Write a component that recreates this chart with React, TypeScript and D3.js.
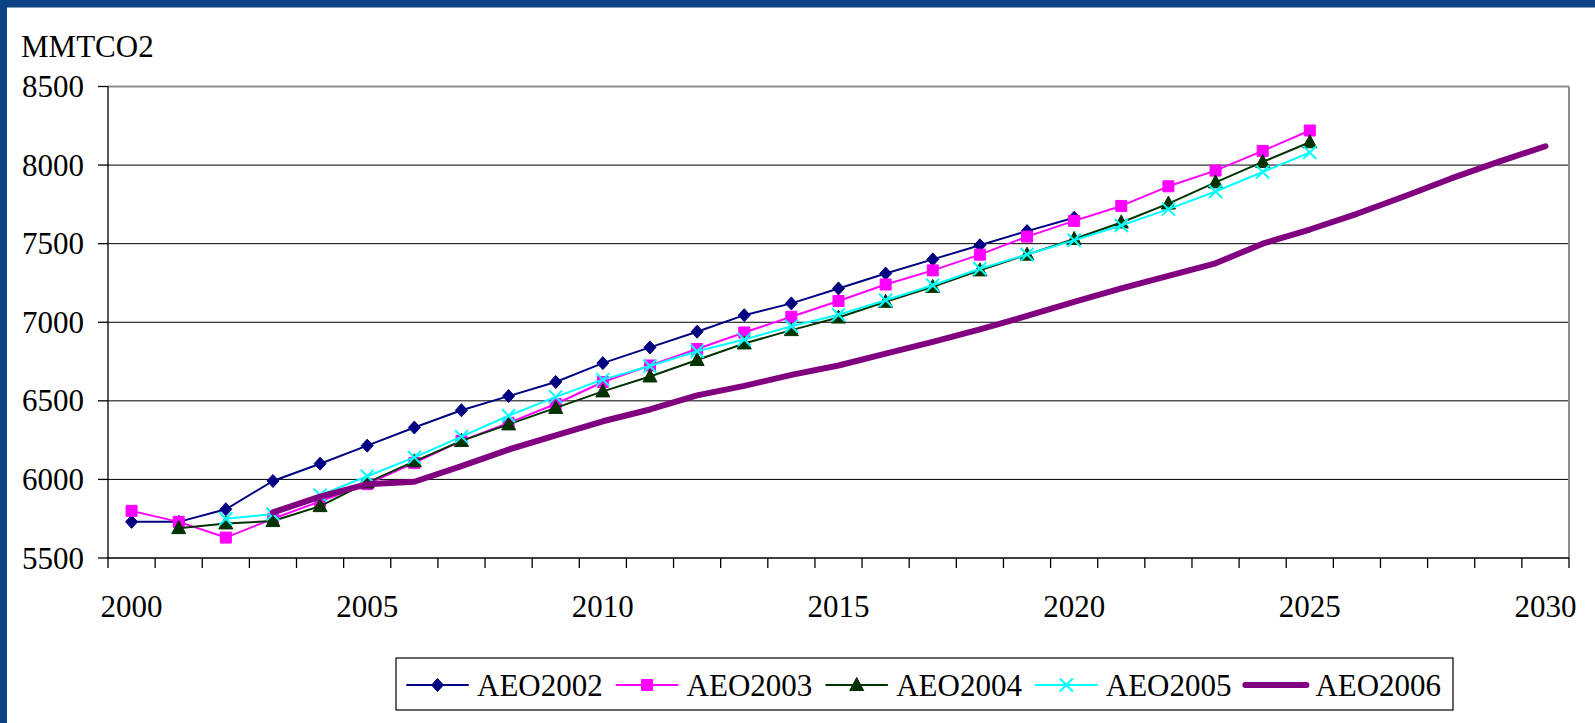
import React from "react";
import * as d3 from "d3";

// Category axis: one slot per year
const years = [
  2000, 2001, 2002, 2003, 2004, 2005, 2006, 2007, 2008, 2009, 2010,
  2011, 2012, 2013, 2014, 2015, 2016, 2017, 2018, 2019, 2020,
  2021, 2022, 2023, 2024, 2025, 2026, 2027, 2028, 2029, 2030,
];
const yearLabels = [2000, 2005, 2010, 2015, 2020, 2025, 2030];
const yTicks = [5500, 6000, 6500, 7000, 7500, 8000, 8500];

// Projected CO2 emissions (MMTCO2), each outlook starting at its first year
const aeo2002Start = 2000;
const aeo2002 = [
  5730, 5730, 5810, 5990, 6100, 6215, 6330, 6440, 6530, 6620, 6740,
  6840, 6940, 7045, 7120, 7215, 7310, 7400, 7490, 7580, 7665,
];
const aeo2003Start = 2000;
const aeo2003 = [
  5800, 5730, 5630, 5750, 5860, 5970, 6105, 6245, 6360, 6480, 6620,
  6725, 6830, 6935, 7035, 7135, 7240, 7330, 7430, 7545, 7645,
  7740, 7865, 7965, 8090, 8220,
];
const aeo2004Start = 2001;
const aeo2004 = [
  5690, 5720, 5735, 5830, 5980, 6115, 6245, 6350, 6455, 6560,
  6655, 6760, 6865, 6950, 7030, 7130, 7225, 7330, 7430, 7530,
  7635, 7755, 7890, 8020, 8145,
];
const aeo2005Start = 2002;
const aeo2005 = [
  5750, 5780, 5900, 6020, 6140, 6272, 6405, 6525, 6635,
  6722, 6815, 6890, 6975, 7048, 7140, 7235, 7340, 7431, 7522,
  7616, 7720, 7832, 7956, 8080,
];
const aeo2006Start = 2003;
const aeo2006 = [
  5790, 5890, 5970, 5985, 6085, 6190, 6280, 6370,
  6445, 6535, 6595, 6665, 6725, 6800, 6875, 6955, 7040, 7130,
  7215, 7295, 7375, 7500, 7590, 7690, 7800, 7915, 8020, 8120,
];

type Marker = "diamond" | "square" | "triangle" | "x" | "none";

const series: {
  name: string;
  start: number;
  values: number[];
  color: string;
  width: number;
  marker: Marker;
}[] = [
  { name: "AEO2002", start: aeo2002Start, values: aeo2002, color: "#000080", width: 2, marker: "diamond" },
  { name: "AEO2003", start: aeo2003Start, values: aeo2003, color: "#FF00FF", width: 2, marker: "square" },
  { name: "AEO2004", start: aeo2004Start, values: aeo2004, color: "#003300", width: 2, marker: "triangle" },
  { name: "AEO2005", start: aeo2005Start, values: aeo2005, color: "#00FFFF", width: 2, marker: "x" },
  { name: "AEO2006", start: aeo2006Start, values: aeo2006, color: "#800080", width: 6, marker: "none" },
];

const W = 1595;
const H = 723;
const FONT = "Liberation Serif, Times New Roman, serif";
const FS = 31;

const plot = { left: 108, right: 1569, top: 86.5, bottom: 558 };

function markerPath(kind: Marker, x: number, y: number): string {
  switch (kind) {
    case "diamond":
      return `M${x},${y - 6.5}L${x + 6},${y}L${x},${y + 6.5}L${x - 6},${y}Z`;
    case "square":
      return `M${x - 5.5},${y - 5.5}H${x + 5.5}V${y + 5.5}H${x - 5.5}Z`;
    case "triangle":
      return `M${x},${y - 7.5}L${x + 7},${y + 5.5}L${x - 7},${y + 5.5}Z`;
    case "x":
      return `M${x - 6.5},${y - 6.5}L${x + 6.5},${y + 6.5}M${x + 6.5},${y - 6.5}L${x - 6.5},${y + 6.5}`;
    default:
      return "";
  }
}

function MarkerShape({ kind, x, y, color }: { kind: Marker; x: number; y: number; color: string }) {
  if (kind === "none") return null;
  if (kind === "x") {
    return <path d={markerPath(kind, x, y)} stroke={color} strokeWidth={2} fill="none" />;
  }
  return <path d={markerPath(kind, x, y)} fill={color} stroke={color} strokeWidth={1} />;
}

export default function App() {
  const x = d3
    .scaleBand<number>()
    .domain(years)
    .range([plot.left, plot.right])
    .paddingInner(0)
    .paddingOuter(0);
  const cx = (yr: number) => (x(yr) as number) + x.bandwidth() / 2;
  const y = d3.scaleLinear().domain([5500, 8500]).range([plot.bottom, plot.top]);

  const line = d3
    .line<[number, number]>()
    .x((d) => cx(d[0]))
    .y((d) => y(d[1]));

  const tickXs = years.map((yr) => x(yr) as number).concat([plot.right]);

  const legend = { left: 396, right: 1453, top: 658, bottom: 710 };
  const legendY = 685;
  const entryStep = 209.6;
  const entryX0 = 407;
  const sampleLen = 61;

  const textStyle = { fontFamily: FONT };

  return (
    <svg
      width={W}
      height={H}
      viewBox={`0 0 ${W} ${H}`}
      style={{ position: "absolute", left: 0, top: 0, display: "block", fontFamily: FONT }}
    >
      <rect x={0} y={0} width={W} height={H} fill="#ffffff" />
      <rect x={0} y={0} width={W} height={7.5} fill="#0b4185" />
      <rect x={0} y={0} width={7} height={H} fill="#0b4185" />

      {/* unit label */}
      <text x={21} y={57} fontSize={FS} fill="#000" style={textStyle}>
        MMTCO2
      </text>

      {/* horizontal gridlines */}
      {yTicks.slice(1, -1).map((v) => (
        <line key={v} x1={plot.left} x2={plot.right} y1={y(v)} y2={y(v)} stroke="#000" strokeWidth={1} />
      ))}

      {/* plot-area frame (top and right) */}
      <line x1={plot.left} x2={plot.right} y1={plot.top} y2={plot.top} stroke="#8c8c8c" strokeWidth={2} />
      <line x1={plot.right} x2={plot.right} y1={plot.top} y2={plot.bottom} stroke="#8c8c8c" strokeWidth={2} />

      {/* value axis */}
      <line x1={plot.left} x2={plot.left} y1={plot.top} y2={plot.bottom} stroke="#000" strokeWidth={1.3} />
      {yTicks.map((v) => (
        <g key={v}>
          <line x1={plot.left - 10} x2={plot.left} y1={y(v)} y2={y(v)} stroke="#000" strokeWidth={1.3} />
          <text x={84} y={y(v) + 10.5} fontSize={FS} textAnchor="end" fill="#000" style={textStyle}>
            {v}
          </text>
        </g>
      ))}

      {/* category axis */}
      <line x1={plot.left} x2={plot.right} y1={plot.bottom} y2={plot.bottom} stroke="#000" strokeWidth={1.3} />
      {tickXs.map((tx, i) => (
        <line key={i} x1={tx} x2={tx} y1={plot.bottom} y2={plot.bottom + 10} stroke="#000" strokeWidth={1.3} />
      ))}
      {yearLabels.map((yr) => (
        <text key={yr} x={cx(yr)} y={617} fontSize={FS} textAnchor="middle" fill="#000" style={textStyle}>
          {yr}
        </text>
      ))}

      {/* series */}
      {series.map((s) => {
        const pts: [number, number][] = s.values.map((v, i) => [s.start + i, v]);
        return (
          <g key={s.name}>
            <path
              d={line(pts) || ""}
              fill="none"
              stroke={s.color}
              strokeWidth={s.width}
              strokeLinejoin="round"
              strokeLinecap="round"
            />
            {pts.map((p) => (
              <MarkerShape key={p[0]} kind={s.marker} x={cx(p[0])} y={y(p[1])} color={s.color} />
            ))}
          </g>
        );
      })}

      {/* legend */}
      <rect
        x={legend.left}
        y={legend.top}
        width={legend.right - legend.left}
        height={legend.bottom - legend.top}
        fill="#fff"
        stroke="#000"
        strokeWidth={1.2}
      />
      {series.map((s, i) => {
        const lx = entryX0 + i * entryStep;
        return (
          <g key={s.name}>
            <line
              x1={lx}
              x2={lx + sampleLen}
              y1={legendY}
              y2={legendY}
              stroke={s.color}
              strokeWidth={s.width}
              strokeLinecap="round"
            />
            <MarkerShape kind={s.marker} x={lx + sampleLen / 2} y={legendY} color={s.color} />
            <text x={lx + sampleLen + 9} y={695.5} fontSize={FS} fill="#000" style={textStyle}>
              {s.name}
            </text>
          </g>
        );
      })}
    </svg>
  );
}
